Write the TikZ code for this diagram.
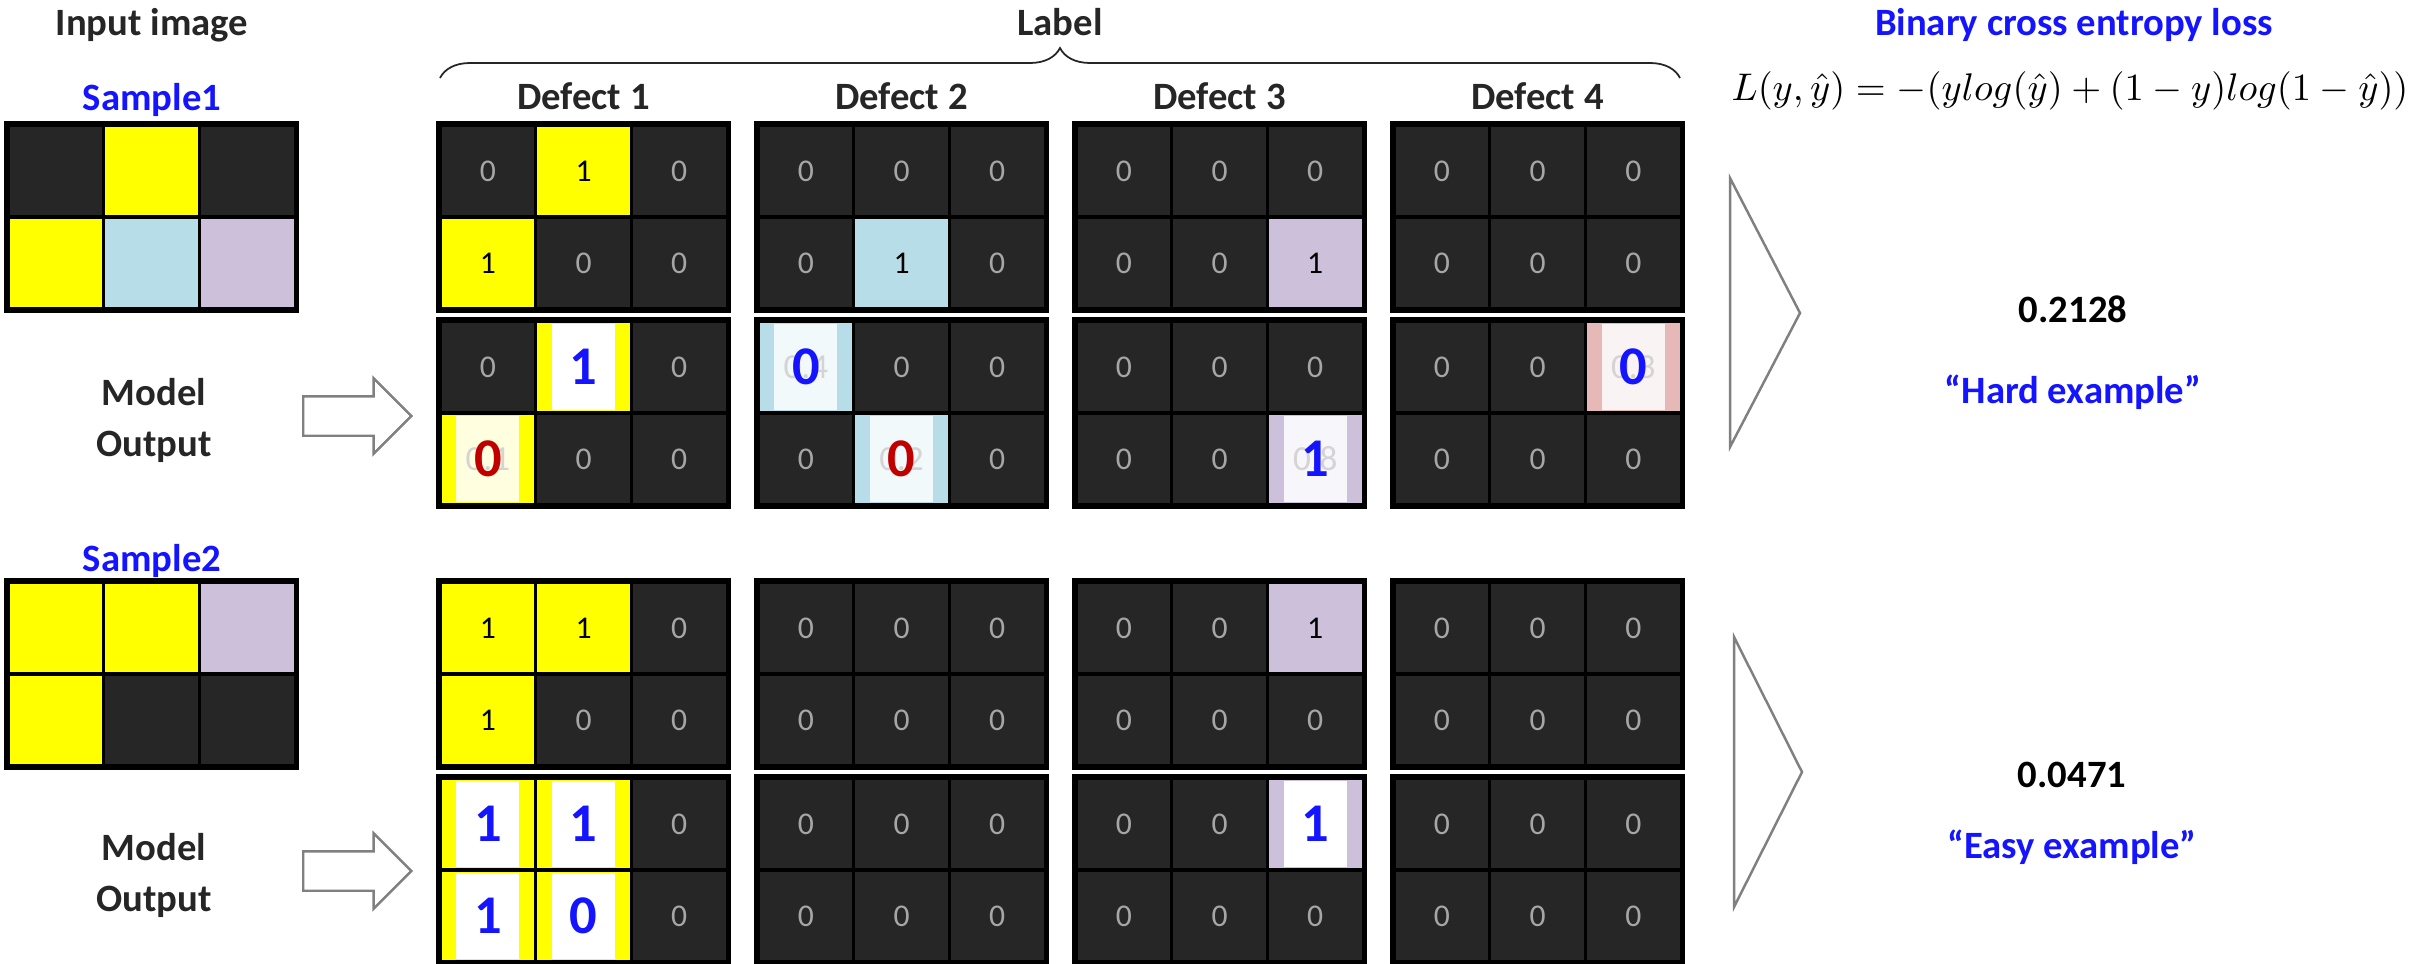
\documentclass[tikz,border=0pt]{standalone}
\usepackage{fontspec}
\setmainfont{Carlito}
\usetikzlibrary{positioning,shapes.arrows,decorations.pathreplacing}

\definecolor{cdark}{HTML}{262626}
\definecolor{cyellow}{HTML}{FFFF00}
\definecolor{cblue}{HTML}{B7DEE8}
\definecolor{clav}{HTML}{CCC0DA}
\definecolor{cpink}{HTML}{E6B8B7}
\definecolor{czero}{HTML}{A6A6A6}
\definecolor{ctext}{HTML}{262626}
\definecolor{cblu}{HTML}{1414FF}
\definecolor{cred}{HTML}{C00000}
\definecolor{cghost}{HTML}{D4D4D4}
\definecolor{bxyel}{HTML}{FFFFE0}
\definecolor{bxblue}{HTML}{F2F9FB}
\definecolor{bxlav}{HTML}{F7F6FA}
\definecolor{bxpink}{HTML}{FAF3F3}
\definecolor{cline}{HTML}{808080}

\tikzset{
    cell/.style={draw=black,line width=0.9pt,minimum width=0.957cm,minimum height=0.92cm,inner sep=0pt,font=\fontsize{9}{10}\selectfont},
    darkcell/.style={fill=cdark,text=czero},
    yellowcell/.style={fill=cyellow,text=black},
    bluecell/.style={fill=cblue,text=black},
    lavcell/.style={fill=clav,text=black},
    pinkcell/.style={fill=cpink,text=black},
    gridframe/.style={draw=black,line width=1.3pt},
    predbg/.style={minimum width=0.63cm,minimum height=0.86cm,inner sep=0pt,text=cghost,font=\fontsize{10}{11}\selectfont},
    bigdigit/.style={inner sep=0pt,font=\fontsize{15.5}{16}\selectfont\bfseries},
    head/.style={font=\fontsize{11}{13}\selectfont\bfseries,text=ctext,anchor=base},
    bluehead/.style={head,text=cblu},
    twoline/.style={font=\fontsize{11}{14.5}\selectfont\bfseries,text=ctext,align=center},
    blockarrow/.style={single arrow,draw=cline,fill=white,line width=0.7pt,minimum height=1.08cm,inner xsep=0pt,inner ysep=0.185cm,single arrow head extend=0.18cm,anchor=tail},
    chevron/.style={draw=cline,fill=white,line width=0.7pt},
    labelbrace/.style={decorate,decoration={brace,amplitude=0.3cm},draw=ctext,line width=0.5pt}
}

% 2x3 grid: name, left, top, list of style/value
\newcommand{\maskgrid}[4]{%
  \foreach \f/\v [count=\k from 0] in {#4}{%
    \pgfmathtruncatemacro{\mrow}{\k/3}
    \pgfmathtruncatemacro{\mcol}{\k-3*\mrow}
    \node[cell,\f] (#1-\k) at ({#2+47.85+95.7*\mcol},{#3+46+92*\mrow}) {\v};
  }
  \draw[gridframe] (#1-0.north west) rectangle (#1-5.south east);
}
% predicted value on a cell: cell, box colour, ghost, digit colour, digit
\newcommand{\predcell}[5]{%
  \node[predbg,fill=#2] (#1-box) at (#1) {#3};
  \node[bigdigit,text=#4] (#1-val) at (#1) {#5};
}

\begin{document}
\begin{tikzpicture}[x=0.01cm,y=-0.01cm]
  \useasboundingbox (0,0) rectangle (2427,963);

  % headings
  \node[head] (inhead) at (152,35) {Input image};
  \node[head] (labhead) at (1060,35) {Label};
  \node[bluehead] (bcehead) at (2074,35) {Binary cross entropy loss};
  \node[anchor=base,font=\fontsize{10.9}{13}\selectfont] (bceformula) at (2070,100)
    {$L(y,\hat{y})=-(ylog(\hat{y})+(1-y)log(1-\hat{y}))$};
  \foreach \d in {1,...,4}{
    \node[head] (dhead\d) at ({583.5+318*(\d-1)},109) {Defect \d};
  }
  \draw[labelbrace] (440,78) -- (1680,78);

  % sample 1
  \node[bluehead] (s1name) at (152,110) {Sample1};
  \maskgrid{s1i}{8}{125}{darkcell/{},yellowcell/{},darkcell/{},yellowcell/{},bluecell/{},lavcell/{}}
  \maskgrid{s1l1}{440}{125}{darkcell/0,yellowcell/1,darkcell/0,yellowcell/1,darkcell/0,darkcell/0}
  \maskgrid{s1l2}{758}{125}{darkcell/0,darkcell/0,darkcell/0,darkcell/0,bluecell/1,darkcell/0}
  \maskgrid{s1l3}{1076}{125}{darkcell/0,darkcell/0,darkcell/0,darkcell/0,darkcell/0,lavcell/1}
  \maskgrid{s1l4}{1394}{125}{darkcell/0,darkcell/0,darkcell/0,darkcell/0,darkcell/0,darkcell/0}
  \maskgrid{s1o1}{440}{321}{darkcell/0,yellowcell/{},darkcell/0,yellowcell/{},darkcell/0,darkcell/0}
  \maskgrid{s1o2}{758}{321}{bluecell/{},darkcell/0,darkcell/0,darkcell/0,bluecell/{},darkcell/0}
  \maskgrid{s1o3}{1076}{321}{darkcell/0,darkcell/0,darkcell/0,darkcell/0,darkcell/0,lavcell/{}}
  \maskgrid{s1o4}{1394}{321}{darkcell/0,darkcell/0,pinkcell/{},darkcell/0,darkcell/0,darkcell/0}
  \predcell{s1o1-1}{white}{}{cblu}{1}
  \predcell{s1o1-3}{bxyel}{0.1}{cred}{0}
  \predcell{s1o2-0}{bxblue}{0.4}{cblu}{0}
  \predcell{s1o2-4}{bxblue}{0.2}{cred}{0}
  \predcell{s1o3-5}{bxlav}{0.8}{cblu}{1}
  \predcell{s1o4-2}{bxpink}{0.3}{cblu}{0}
  \node[twoline] (s1model) at (154,420) {Model\\Output};
  \node[blockarrow] (s1arrow) at (302,416) {};
  \draw[chevron] (1730,178) -- (1800,313) -- (1730,447) -- cycle;
  \node[head,text=black] (loss1) at (2073,322) {0.2128};
  \node[bluehead] (hard) at (2073,403) {“Hard example”};

  % sample 2
  \node[bluehead] (s2name) at (152,571) {Sample2};
  \maskgrid{s2i}{8}{582}{yellowcell/{},yellowcell/{},lavcell/{},yellowcell/{},darkcell/{},darkcell/{}}
  \maskgrid{s2l1}{440}{582}{yellowcell/1,yellowcell/1,darkcell/0,yellowcell/1,darkcell/0,darkcell/0}
  \maskgrid{s2l2}{758}{582}{darkcell/0,darkcell/0,darkcell/0,darkcell/0,darkcell/0,darkcell/0}
  \maskgrid{s2l3}{1076}{582}{darkcell/0,darkcell/0,lavcell/1,darkcell/0,darkcell/0,darkcell/0}
  \maskgrid{s2l4}{1394}{582}{darkcell/0,darkcell/0,darkcell/0,darkcell/0,darkcell/0,darkcell/0}
  \maskgrid{s2o1}{440}{778}{yellowcell/{},yellowcell/{},darkcell/0,yellowcell/{},yellowcell/{},darkcell/0}
  \maskgrid{s2o2}{758}{778}{darkcell/0,darkcell/0,darkcell/0,darkcell/0,darkcell/0,darkcell/0}
  \maskgrid{s2o3}{1076}{778}{darkcell/0,darkcell/0,lavcell/{},darkcell/0,darkcell/0,darkcell/0}
  \maskgrid{s2o4}{1394}{778}{darkcell/0,darkcell/0,darkcell/0,darkcell/0,darkcell/0,darkcell/0}
  \predcell{s2o1-0}{white}{}{cblu}{1}
  \predcell{s2o1-1}{white}{}{cblu}{1}
  \predcell{s2o1-3}{white}{}{cblu}{1}
  \predcell{s2o1-4}{white}{}{cblu}{0}
  \predcell{s2o3-2}{white}{}{cblu}{1}
  \node[twoline] (s2model) at (154,875) {Model\\Output};
  \node[blockarrow] (s2arrow) at (302,871) {};
  \draw[chevron] (1734,637) -- (1802,772) -- (1734,907) -- cycle;
  \node[head,text=black] (loss2) at (2072,787) {0.0471};
  \node[bluehead] (easy) at (2072,858) {“Easy example”};
\end{tikzpicture}
\end{document}
